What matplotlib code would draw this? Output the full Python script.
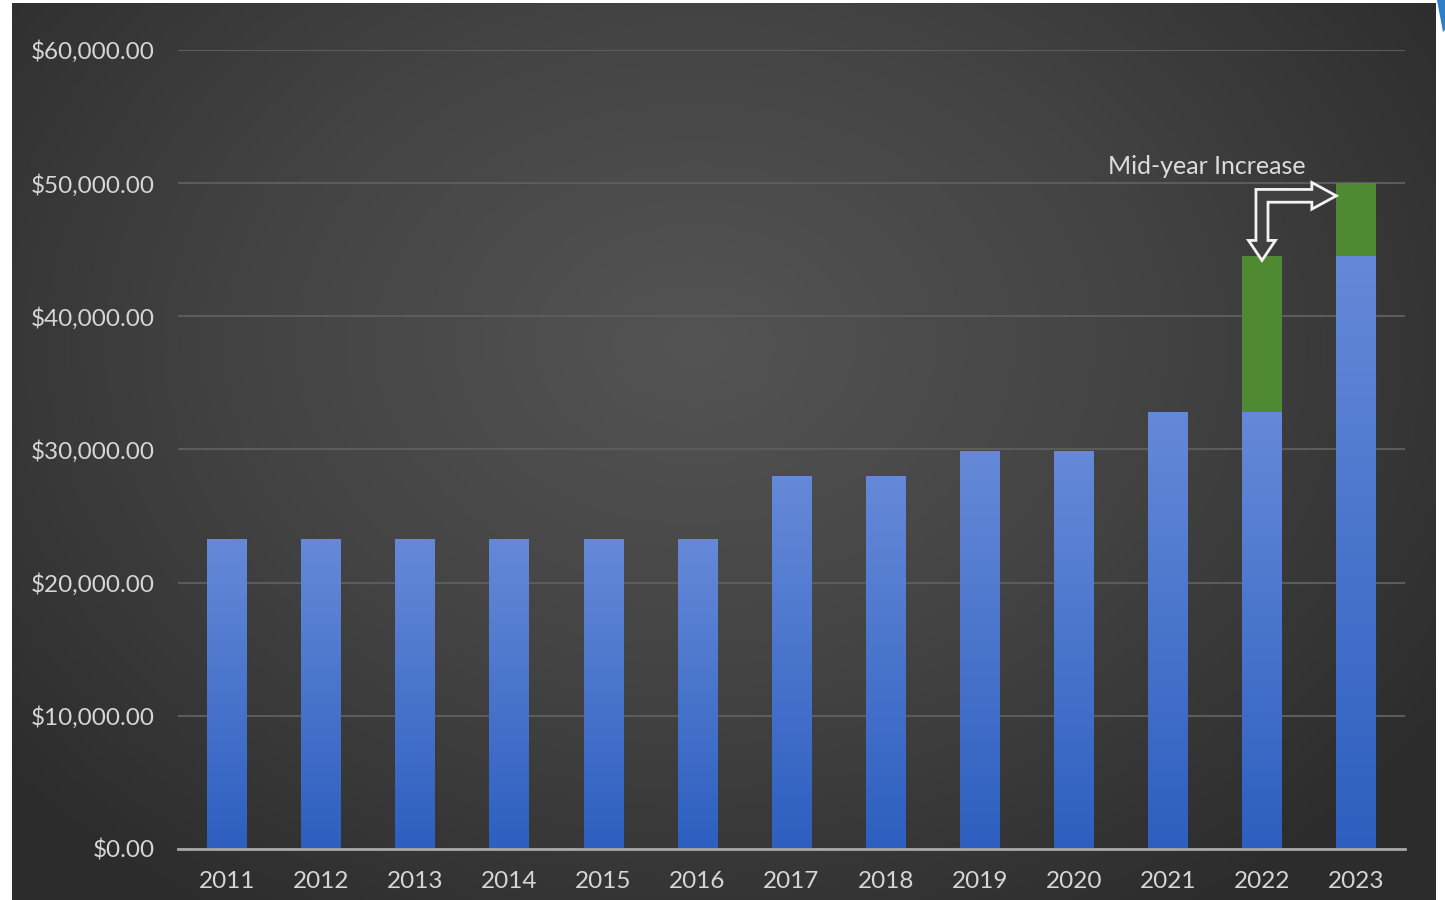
import numpy as np
import matplotlib.pyplot as plt
from matplotlib.patches import Polygon
from matplotlib.colors import LinearSegmentedColormap
from matplotlib.ticker import FuncFormatter

plt.rcParams['font.family'] = ['Lato', 'DejaVu Sans']

# data
years = ['2011', '2012', '2013', '2014', '2015', '2016', '2017',
         '2018', '2019', '2020', '2021', '2022', '2023']
base_pay = [23250, 23250, 23250, 23250, 23250, 23250, 28000,
            28000, 29850, 29850, 32800, 32800, 44500]
midyear_inc = [0, 0, 0, 0, 0, 0, 0, 0, 0, 0, 0, 11700, 5500]
yticks = [0, 10000, 20000, 30000, 40000, 50000, 60000]
note = 'Mid-year Increase'

W, H = 1445, 900
fig = plt.figure(figsize=(W / 100, H / 100), dpi=100)
fig.patch.set_facecolor('white')

# dark radial background panel
bg = fig.add_axes([12 / W, 0, (1436 - 12) / W, 897 / H])
yy, xx = np.mgrid[0:1:300j, 0:1:480j]
r = np.sqrt(((xx - 0.48) / 0.75) ** 2 + ((yy - 0.62) / 0.9) ** 2)
bg_cmap = LinearSegmentedColormap.from_list('bg', ['#545454', '#434343', '#2c2c2c'])
bg.imshow(r, cmap=bg_cmap, aspect='auto', vmin=0, vmax=0.85, origin='lower')
bg.axis('off')

# blue sliver in top right corner
fig.patches.append(Polygon([[1437 / W, 1], [1445 / W, 1], [1445 / W, 870 / H], [1443 / W, 868 / H]],
                           closed=True, transform=fig.transFigure, facecolor='#2f7fc8', edgecolor='none'))

ax = fig.add_axes([178 / W, 51 / H, 1227 / W, 799 / H])
ax.set_facecolor('none')
x = np.arange(len(years))
bw = 0.42

blue_cmap = LinearSegmentedColormap.from_list('blue', ['#2d5fc0', '#6589d8'])
grad = np.linspace(0, 1, 256).reshape(-1, 1)
bars = ax.bar(x, base_pay, width=bw, color='#4a76cc', zorder=2)
for b in bars:
    bx, by = b.get_x(), b.get_y()
    im = ax.imshow(grad, cmap=blue_cmap, aspect='auto', origin='lower', zorder=3,
                   extent=[bx, bx + b.get_width(), by, by + b.get_height()])
    im.set_clip_path(b)
ax.bar(x, midyear_inc, width=bw, bottom=base_pay, color='#4f8a33', zorder=3)

ax.set_xlim(-0.52, len(years) - 0.48)
ax.set_ylim(0, 60000)
ax.set_yticks(yticks)
ax.yaxis.set_major_formatter(FuncFormatter(lambda v, p: f'${v:,.2f}'))
ax.set_xticks(x)
ax.set_xticklabels(years)
ax.grid(axis='y', color='#5c5c5c', lw=1.5, zorder=0)
ax.tick_params(axis='both', length=0, colors='#d6d6d6', labelsize=17.5)
ax.tick_params(axis='y', pad=17)
ax.tick_params(axis='x', pad=16)
for s in ['top', 'right', 'left']:
    ax.spines[s].set_visible(False)
ax.spines['bottom'].set_color('#a8a8a8')
ax.spines['bottom'].set_linewidth(2)
ax.spines['bottom'].set_zorder(4)

# hollow elbow arrow from 2022 total to 2023 bar
t22 = base_pay[11] + midyear_inc[11]
t23 = base_pay[12] + midyear_inc[12]
cx = x[11]
cy = 49050
sx, sy = 0.064, 480      # shaft half widths
hx, hy = 0.143, 1000     # head half widths
tip_y = t22 - 300
tip_x = x[12] - bw / 2
pts = [[cx - sx, cy + sy], [tip_x - 0.26, cy + sy], [tip_x - 0.26, cy + hy], [tip_x, cy],
       [tip_x - 0.26, cy - hy], [tip_x - 0.26, cy - sy], [cx + sx, cy - sy],
       [cx + sx, tip_y + 1500], [cx + hx, tip_y + 1500], [cx, tip_y],
       [cx - hx, tip_y + 1500], [cx - sx, tip_y + 1500]]
ax.add_patch(Polygon(pts, closed=True, facecolor='#404040', edgecolor='#f2f2f2', lw=2, zorder=5))
ax.text(10.41, 51250, note, color='#dcdcdc', fontsize=18, ha='center', va='center', zorder=6)

fig.savefig('out.png', dpi=100, facecolor=fig.get_facecolor())
